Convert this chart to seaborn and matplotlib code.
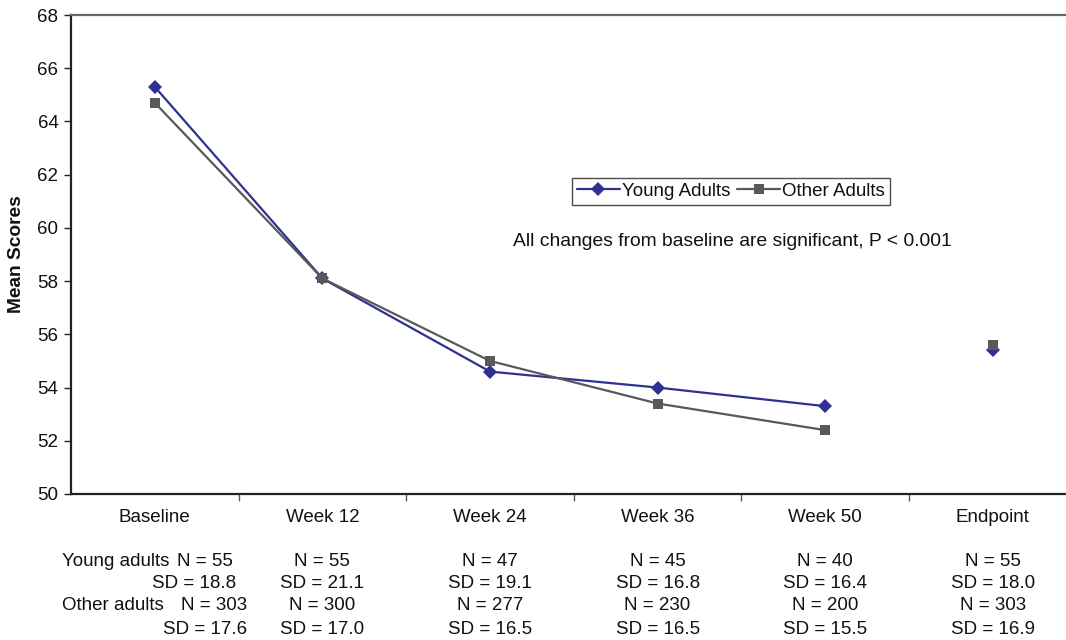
import matplotlib
matplotlib.use("Agg")
import matplotlib.pyplot as plt
import seaborn as sns
import pandas as pd
import numpy as np
from matplotlib.lines import Line2D

categories = ["Baseline", "Week 12", "Week 24", "Week 36", "Week 50", "Endpoint"]
young = [65.3, 58.1, 54.6, 54.0, 53.3, 55.4]
other = [64.7, 58.1, 55.0, 53.4, 52.4, 55.6]
young_n = [55, 55, 47, 45, 40, 55]
young_sd = [18.8, 21.1, 19.1, 16.8, 16.4, 18.0]
other_n = [303, 300, 277, 230, 200, 303]
other_sd = [17.6, 17.0, 16.5, 16.5, 15.5, 16.9]

sns.set_theme(style="white")
plt.rcParams["font.family"] = ["Liberation Sans", "DejaVu Sans"]

BLUE = "#2E3192"
GRAY = "#595959"
TXT = "#111111"
FS = 13.5

W, H = 1066, 640
fig = plt.figure(figsize=(W / 100, H / 100), dpi=100)
L, R, T, B = 71, 1066, 15, 494
ax = fig.add_axes([L / W, 1 - B / H, (R - L) / W, (B - T) / H])

x = np.arange(len(categories))
df_line = pd.DataFrame({
    "x": np.concatenate([x[:5], x[:5]]),
    "val": young[:5] + other[:5],
    "grp": ["Young Adults"] * 5 + ["Other Adults"] * 5,
})
sns.lineplot(data=df_line, x="x", y="val", hue="grp", style="grp",
             palette={"Young Adults": BLUE, "Other Adults": GRAY},
             markers={"Young Adults": "D", "Other Adults": "s"},
             dashes=False, markersize=7.5, linewidth=1.6, ax=ax,
             markeredgewidth=0, legend=False)
# endpoints (not connected)
ax.plot([x[5]], [other[5]], marker="s", color=GRAY, markersize=7.5, mew=0, ls="none", zorder=3)
ax.plot([x[5]], [young[5]], marker="D", color=BLUE, markersize=7.5, mew=0, ls="none", zorder=2)

ax.set_xlim(-0.5, -0.5 + (R - L) / 167.6)
ax.set_ylim(50, 68)
ax.set_yticks(np.arange(50, 69, 2))
ax.set_yticklabels([str(v) for v in range(50, 69, 2)], fontsize=FS, color=TXT)
ax.set_xticks(x)
ax.set_xticklabels(categories, fontsize=FS, color=TXT)
ax.set_xticks(np.arange(0.5, 5, 1), minor=True)
ax.tick_params(axis="x", which="major", length=0, pad=11)
ax.tick_params(axis="x", which="minor", length=5, width=1, color=GRAY, direction="out", bottom=True)
ax.tick_params(axis="y", which="major", length=5, width=1, color="#222222", direction="out", left=True, pad=4)
ax.set_xlabel("")
ax.set_ylabel("Mean Scores", fontsize=13.8, fontweight="bold", labelpad=9, color=TXT)

for s in ["left", "bottom"]:
    ax.spines[s].set_color("#222222")
    ax.spines[s].set_linewidth(1.6)
ax.spines["top"].set_color("#666666")
ax.spines["top"].set_linewidth(1.6)
ax.spines["right"].set_visible(False)

handles = [Line2D([], [], color=BLUE, marker="D", markersize=7.5, mew=0, lw=1.6),
           Line2D([], [], color=GRAY, marker="s", markersize=7.5, mew=0, lw=1.6)]
leg = ax.legend(handles, ["Young Adults", "Other Adults"], ncol=2, loc="upper left",
                bbox_to_anchor=((572 - L) / (R - L), (B - 178) / (B - T)),
                fontsize=13.5, frameon=True, fancybox=False, borderpad=0.25,
                handlelength=2.3, handletextpad=0.12, columnspacing=0.35, borderaxespad=0)
leg.get_frame().set_edgecolor("#222222")
leg.get_frame().set_linewidth(1.0)
for t in leg.get_texts():
    t.set_color(TXT)

ax.text((513 - L) / (R - L), (B - 242) / (B - T),
        "All changes from baseline are significant, P < 0.001",
        transform=ax.transAxes, fontsize=13.9, ha="left", va="center", color=TXT)

# bottom table
rows_y = [561, 584, 606, 630]
def fx(px):
    return px / W
def fy(py):
    return 1 - py / H

fig.text(fx(62), fy(rows_y[0]), "Young adults", fontsize=FS, ha="left", va="center", color=TXT)
fig.text(fx(62), fy(rows_y[2]), "Other adults", fontsize=FS, ha="left", va="center", color=TXT)
fig.text(fx(233), fy(rows_y[0]), f"N = {young_n[0]}", fontsize=FS, ha="right", va="center", color=TXT)
fig.text(fx(236), fy(rows_y[1]), f"SD = {young_sd[0]:.1f}", fontsize=FS, ha="right", va="center", color=TXT)
fig.text(fx(247), fy(rows_y[2]), f"N = {other_n[0]}", fontsize=FS, ha="right", va="center", color=TXT)
fig.text(fx(247), fy(rows_y[3]), f"SD = {other_sd[0]:.1f}", fontsize=FS, ha="right", va="center", color=TXT)
for i in range(1, 6):
    cx = L + 167.6 * (i + 0.5)
    vals = [f"N = {young_n[i]}", f"SD = {young_sd[i]:.1f}", f"N = {other_n[i]}", f"SD = {other_sd[i]:.1f}"]
    for ry, v in zip(rows_y, vals):
        fig.text(fx(cx), fy(ry), v, fontsize=FS, ha="center", va="center", color=TXT)

fig.savefig("out.png", dpi=100)
